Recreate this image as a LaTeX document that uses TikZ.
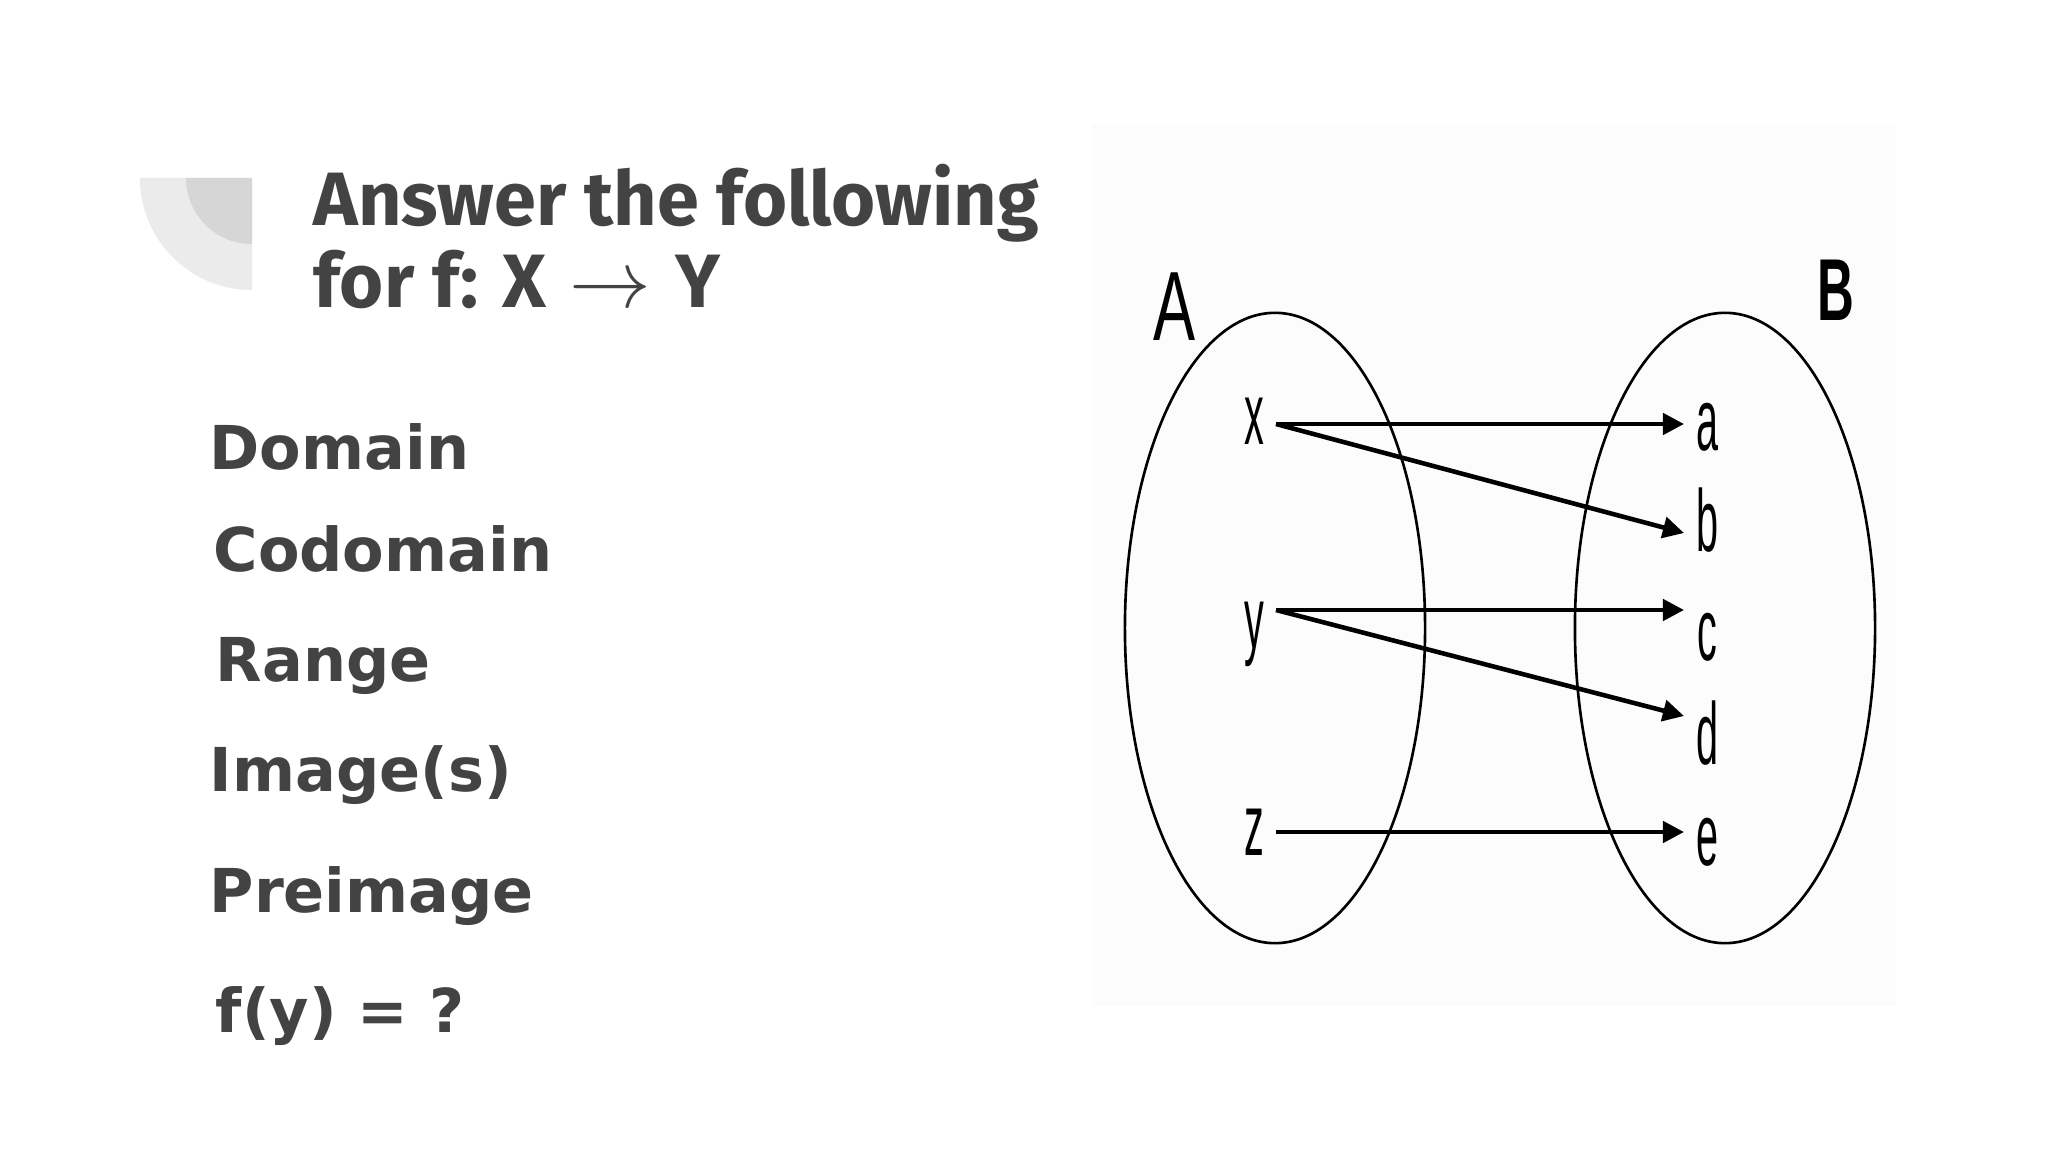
\documentclass[tikz,border=0pt]{standalone}
\usepackage{fontspec}
\setmainfont{DejaVu Sans}
\newfontfamily\titlefont{Fira Sans}
\newfontfamily\lblfont{Liberation Sans}
\usetikzlibrary{arrows.meta,shapes.geometric}
\definecolor{ink}{HTML}{434343}
\definecolor{decoA}{HTML}{EBEBEB}
\definecolor{decoB}{HTML}{D6D6D6}
\definecolor{panel}{HTML}{FCFCFC}
\tikzset{
  titletxt/.style={anchor=base west, inner sep=0, align=left, text=ink, font=\titlefont\bfseries\fontsize{21.5}{23.6}\selectfont},
  itemtxt/.style={anchor=base west, inner sep=0, text=ink, font=\bfseries\fontsize{17.2}{21}\selectfont},
  elem/.style={anchor=base, inner sep=0, font=\lblfont\fontsize{25}{30}\selectfont},
  setring/.style={ellipse, draw=black, line width=0.75pt, minimum width=3cm, minimum height=6.3cm, inner sep=0},
  maparrow/.style={line width=1.3pt, -{Triangle[length=6pt,width=6pt]}}
}
\begin{document}
\begin{tikzpicture}[x=0.01cm,y=-0.01cm]
\useasboundingbox (0,0) rectangle (2048,1152);
\fill[white] (0,0) rectangle (2048,1152);
% decoration
\fill[decoA] (252,178) -- ++(-1.12cm,0) arc[start angle=180,end angle=270,radius=1.12cm] -- cycle;
\fill[decoB] (252,178) -- ++(-0.66cm,0) arc[start angle=180,end angle=270,radius=0.66cm] -- cycle;
% title (base anchor = last line's baseline)
\node[titletxt] (title) at (313,308) {Answer the following\\for f: X\hspace{1.5pt} {\mdseries\scalebox{1.12}{$\rightarrow$}}\hspace{2pt} Y};
% list
\node[itemtxt] (i1) at (209,470) {Domain};
\node[itemtxt] (i2) at (213,572) {Codomain};
\node[itemtxt] (i3) at (215,682) {Range};
\node[itemtxt] (i4) at (209,791) {Image(s)};
\node[itemtxt] (i5) at (209,912) {Preimage};
\node[itemtxt] (i6) at (215,1032) {f(y) = ?};
% diagram panel
\fill[panel] (1092,124) rectangle (1896,1006);
\node[setring] (SA) at (1275,628) {};
\node[setring] (SB) at (1725,628) {};
\node[anchor=center, inner sep=0, font=\lblfont\fontsize{28}{32}\selectfont] (LA) at (1175,307) {\scalebox{0.64}[1]{A}};
\node[anchor=center, inner sep=0, font=\lblfont\bfseries\fontsize{25}{30}\selectfont] (LB) at (1836,290) {\scalebox{0.58}[1]{B}};
% elements
\node[elem] (ex) at (1254,445) {\scalebox{0.45}[1]{x}};
\node[elem] (ey) at (1254,649) {\scalebox{0.45}[1]{y}};
\node[elem] (ez) at (1254,855) {\scalebox{0.45}[1]{z}};
\node[elem] (ea) at (1707,451) {\scalebox{0.45}[1]{a}};
\node[elem] (eb) at (1707,551) {\scalebox{0.45}[1]{b}};
\node[elem] (ec) at (1707,660) {\scalebox{0.45}[1]{c}};
\node[elem] (ed) at (1707,764) {\scalebox{0.45}[1]{d}};
\node[elem] (ee) at (1707,865) {\scalebox{0.45}[1]{e}};
% arrow end points
\coordinate (px) at (1276,424);
\coordinate (py) at (1276,610);
\coordinate (pz) at (1276,832);
\coordinate (qa) at (1684,424);
\coordinate (qb) at (1684,533);
\coordinate (qc) at (1684,610);
\coordinate (qd) at (1684,716);
\coordinate (qe) at (1684,832);
\draw[maparrow] (px) -- (qa);
\draw[maparrow] (px) -- (qb);
\draw[maparrow] (py) -- (qc);
\draw[maparrow] (py) -- (qd);
\draw[maparrow] (pz) -- (qe);
\end{tikzpicture}
\end{document}
